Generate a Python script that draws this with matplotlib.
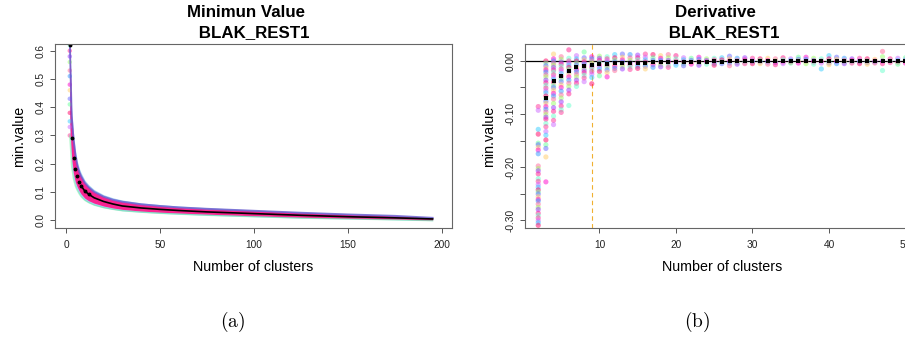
import matplotlib
matplotlib.use("Agg")
import matplotlib.pyplot as plt
import numpy as np

plt.rcParams['font.family'] = ['Liberation Sans', 'DejaVu Sans']
plt.rcParams['mathtext.fontset'] = 'cm'

# ---- panel (a): minimum value vs number of clusters ----
k_min = [2, 3, 4, 5, 6, 7, 8, 10, 12, 15, 20, 25, 30, 40, 50, 60, 75, 100, 125, 150, 175, 195]
mean_min = [0.62, 0.29, 0.22, 0.18, 0.155, 0.135, 0.122, 0.103, 0.092, 0.079, 0.066, 0.057,
            0.050, 0.043, 0.038, 0.034, 0.029, 0.023, 0.017, 0.012, 0.008, 0.004]
hi_out = [0.66, 0.40, 0.31, 0.25, 0.21, 0.185, 0.168, 0.142, 0.126, 0.108, 0.090, 0.079,
          0.071, 0.061, 0.055, 0.050, 0.044, 0.036, 0.029, 0.023, 0.017, 0.010]
lo_out = [0.30, 0.19, 0.145, 0.12, 0.105, 0.093, 0.083, 0.070, 0.062, 0.053, 0.044, 0.038,
          0.033, 0.028, 0.024, 0.021, 0.017, 0.012, 0.007, 0.004, 0.001, -0.002]
hi_in = [0.64, 0.37, 0.285, 0.23, 0.195, 0.172, 0.156, 0.132, 0.117, 0.100, 0.083, 0.072,
         0.065, 0.056, 0.050, 0.045, 0.040, 0.033, 0.026, 0.020, 0.015, 0.008]
lo_in = [0.34, 0.22, 0.165, 0.135, 0.118, 0.104, 0.093, 0.078, 0.069, 0.060, 0.050, 0.043,
         0.038, 0.032, 0.028, 0.025, 0.021, 0.015, 0.010, 0.006, 0.003, 0.000]
# scattered subjects at k = 2
col_k2 = [0.30, 0.33, 0.35, 0.38, 0.41, 0.43, 0.46, 0.48, 0.51, 0.53, 0.56, 0.58, 0.60, 0.62]

# ---- panel (b): derivative, one list of subject values per k ----
k_der = list(range(2, 51))
der_vals = [
    [-0.086, -0.093, -0.129, -0.138, -0.155, -0.158, -0.163, -0.168, -0.175, -0.198, -0.203,
     -0.207, -0.213, -0.222, -0.227, -0.233, -0.238, -0.243, -0.247, -0.251, -0.256, -0.261,
     -0.264, -0.27, -0.276, -0.28, -0.287, -0.291, -0.296, -0.301, -0.305, -0.31],
    [0.0, -0.004, -0.009, -0.013, -0.017, -0.021, -0.026, -0.03, -0.036, -0.041, -0.046,
     -0.051, -0.056, -0.06, -0.066, -0.071, -0.076, -0.08, -0.086, -0.091, -0.096, -0.101,
     -0.106, -0.11, -0.118, -0.124, -0.133, -0.14, -0.149, -0.158, -0.165, -0.181, -0.228],
    [0.013, 0.004, 0.0, -0.004, -0.008, -0.012, -0.017, -0.021, -0.026, -0.031, -0.035,
     -0.04, -0.046, -0.05, -0.055, -0.061, -0.066, -0.072, -0.08, -0.088, -0.095, -0.104,
     -0.112, -0.12],
    [0.008, 0.003, -0.002, -0.006, -0.01, -0.015, -0.019, -0.024, -0.029, -0.034, -0.039,
     -0.045, -0.05, -0.057, -0.064, -0.07, -0.077, -0.085, -0.092, -0.097],
    [0.021, 0.005, 0.0, -0.004, -0.008, -0.012, -0.016, -0.02, -0.025, -0.03, -0.036,
     -0.042, -0.048, -0.055, -0.062, -0.084],
    [0.010, 0.004, 0.0, -0.004, -0.008, -0.012, -0.016, -0.02, -0.025, -0.03, -0.036,
     -0.042, -0.048],
    [0.017, 0.006, 0.002, -0.002, -0.006, -0.01, -0.014, -0.018, -0.022, -0.027, -0.032, -0.039],
    [0.008, 0.004, 0.0, -0.004, -0.008, -0.012, -0.016, -0.02, -0.025, -0.031, -0.043],
    [0.009, 0.005, 0.001, -0.003, -0.007, -0.011, -0.015, -0.02, -0.028],
    [0.008, 0.004, 0.0, -0.004, -0.008, -0.012, -0.017, -0.022, -0.03],
    [0.012, 0.006, 0.002, -0.002, -0.006, -0.01, -0.014, -0.018],
    [0.013, 0.007, 0.002, -0.002, -0.006, -0.01, -0.015],
    [0.012, 0.006, 0.001, -0.003, -0.007, -0.011, -0.016],
    [0.011, 0.006, 0.002, -0.002, -0.006, -0.01, -0.014],
    [0.013, 0.007, 0.002, -0.002, -0.006, -0.01, -0.015],
    [0.012, 0.006, 0.001, -0.003, -0.007, -0.012],
    [0.010, 0.005, 0.001, -0.003, -0.007, -0.011],
    [0.012, 0.006, 0.001, -0.003, -0.008, -0.012],
    [0.010, 0.004, 0.0, -0.004, -0.008],
    [0.006, 0.002, -0.002, -0.005, -0.009],
    [0.005, 0.001, -0.003, -0.006],
    [0.007, 0.003, -0.001, -0.004, -0.008],
    [0.004, 0.001, -0.002, -0.006],
    [0.005, 0.002, -0.002, -0.005, -0.008],
    [0.006, 0.002, -0.002, -0.005],
    [0.009, 0.004, 0.0, -0.004, -0.009],
    [0.005, 0.001, -0.003, -0.006],
    [0.006, 0.002, -0.002, -0.005],
    [0.005, 0.001, -0.002, -0.005],
    [0.004, 0.001, -0.002, -0.005],
    [0.005, 0.001, -0.002, -0.006],
    [0.004, 0.0, -0.003, -0.007],
    [0.006, 0.002, -0.002, -0.005],
    [0.004, 0.001, -0.002, -0.004],
    [0.007, 0.003, 0.0, -0.004],
    [0.007, 0.003, -0.001, -0.005],
    [0.005, 0.001, -0.002, -0.006],
    [0.004, 0.0, -0.004, -0.015],
    [0.010, 0.004, 0.0, -0.004, -0.007],
    [0.007, 0.003, -0.001, -0.005],
    [0.005, 0.001, -0.002, -0.005],
    [0.004, 0.001, -0.002, -0.004],
    [0.005, 0.001, -0.002, -0.005],
    [0.004, 0.0, -0.003, -0.006],
    [0.003, 0.0, -0.002, -0.004],
    [0.018, 0.008, 0.0, -0.005, -0.018],
    [0.004, 0.0, -0.003],
    [0.005, 0.001, -0.002, -0.006],
    [0.006, 0.002, -0.001, -0.004],
]
k_mean_der = list(range(3, 51))
mean_der = [-0.070, -0.037, -0.028, -0.019, -0.012, -0.009, -0.008, -0.006, -0.005, -0.004,
            -0.004, -0.003, -0.003, -0.003, -0.002, -0.002, -0.002, -0.002, -0.002, -0.002,
            -0.002, -0.002, -0.001, -0.002, -0.001, -0.001, -0.001, -0.001, -0.001, -0.001,
            -0.001, -0.001, -0.001, -0.001, -0.001, -0.001, -0.001, -0.001, -0.001, -0.001,
            -0.001, -0.001, -0.001, -0.001, -0.001, -0.001, -0.001, -0.001]
elbow_k = 9

palette = ['#ff3399', '#cc66ff', '#33ccff', '#ff0066', '#66ff99', '#6666ff', '#ffcc66',
           '#ff00cc', '#3399ff', '#ff6699', '#99ff66', '#9933ff', '#ff1a8c', '#66ffcc']

W, H = 905, 339
fig = plt.figure(figsize=(W / 100, H / 100), dpi=100)
ax1 = fig.add_axes([55 / W, 1 - 228 / H, 397 / W, 184 / H])
ax2 = fig.add_axes([525 / W, 1 - 228 / H, 395 / W, 184 / H])

# panel (a)
ax1.fill_between(k_min, lo_out, hi_out, color='#8fc8f0', alpha=0.8, lw=0)
ax1.plot(k_min, lo_out, color='#66ee99', lw=1.0, alpha=0.5)
ax1.plot(k_min, hi_in, color='#6a5acd', lw=1.4, alpha=0.8)
ax1.fill_between(k_min, lo_in, hi_in, color='#ff1a8c', alpha=0.95, lw=0)
ax1.scatter([2] * len(col_k2), col_k2, s=10, c=[palette[i % len(palette)] for i in range(len(col_k2))],
            alpha=0.5, lw=0)
ax1.plot(k_min[6:], mean_min[6:], color='black', lw=1.2)
ax1.plot(k_min[:9], mean_min[:9], 'o', color='black', ms=1.8)
ax1.set_xlim(-5.85, 205.3)
ax1.set_ylim(-0.028, 0.624)
ax1.set_xticks([0, 50, 100, 150, 200])
ax1.set_yticks([0.0, 0.1, 0.2, 0.3, 0.4, 0.5, 0.6])
ax1.set_yticklabels(['0.0', '0.1', '0.2', '0.3', '0.4', '0.5', '0.6'])

# panel (b)
ax2.axhline(0, color='black', lw=0.9, zorder=1)
ax2.axvline(elbow_k, color='#f0b030', lw=0.8, ls=(0, (4, 3)), zorder=1)
for i, (k, vals) in enumerate(zip(k_der, der_vals)):
    cols = [palette[(i * 3 + j) % len(palette)] for j in range(len(vals))]
    ax2.scatter([k] * len(vals), vals, s=14, c=cols, alpha=0.5, lw=0, zorder=2)
ax2.scatter(k_mean_der, mean_der, s=6, marker='s', color='black', lw=0, zorder=3)
ax2.set_xlim(0.27, 51.9)
ax2.set_ylim(-0.315, 0.032)
ax2.set_xticks([10, 20, 30, 40, 50])
ax2.set_yticks([-0.30, -0.25, -0.20, -0.15, -0.10, -0.05, 0.0])
ax2.set_yticklabels(['-0.30', '', '-0.20', '', '-0.10', '', '0.00'])

titles = [('Minimun Value ', 248), ('Derivative ', 718)]
for ax, (t1, cx) in zip([ax1, ax2], titles):
    for s in ax.spines.values():
        s.set_color('#666666')
        s.set_linewidth(0.8)
    ax.tick_params(length=3.6, width=0.7, color='#555555', labelsize=7.3, labelcolor='#222222')
    ax.tick_params(axis='x', pad=5)
    ax.tick_params(axis='y', pad=3)
    plt.setp(ax.get_yticklabels(), rotation=90, va='center')
    ax.set_xlabel('Number of clusters', fontsize=10.3, labelpad=7)
    ax.set_ylabel('min.value', fontsize=10.3, labelpad=7)
    fig.text(cx / W, 1 - 17 / H, t1, ha='center', va='baseline', fontsize=12.2, fontweight='bold')
    fig.text((cx + 4) / W, 1 - 37 / H, ' BLAK_REST1', ha='center', va='baseline',
             fontsize=12.2, fontweight='bold')

fig.text(233 / W, 1 - 322 / H, r'$\mathrm{(a)}$', ha='center', va='center', fontsize=14)
fig.text(697 / W, 1 - 322 / H, r'$\mathrm{(b)}$', ha='center', va='center', fontsize=14)

fig.savefig('out.png', dpi=100)
